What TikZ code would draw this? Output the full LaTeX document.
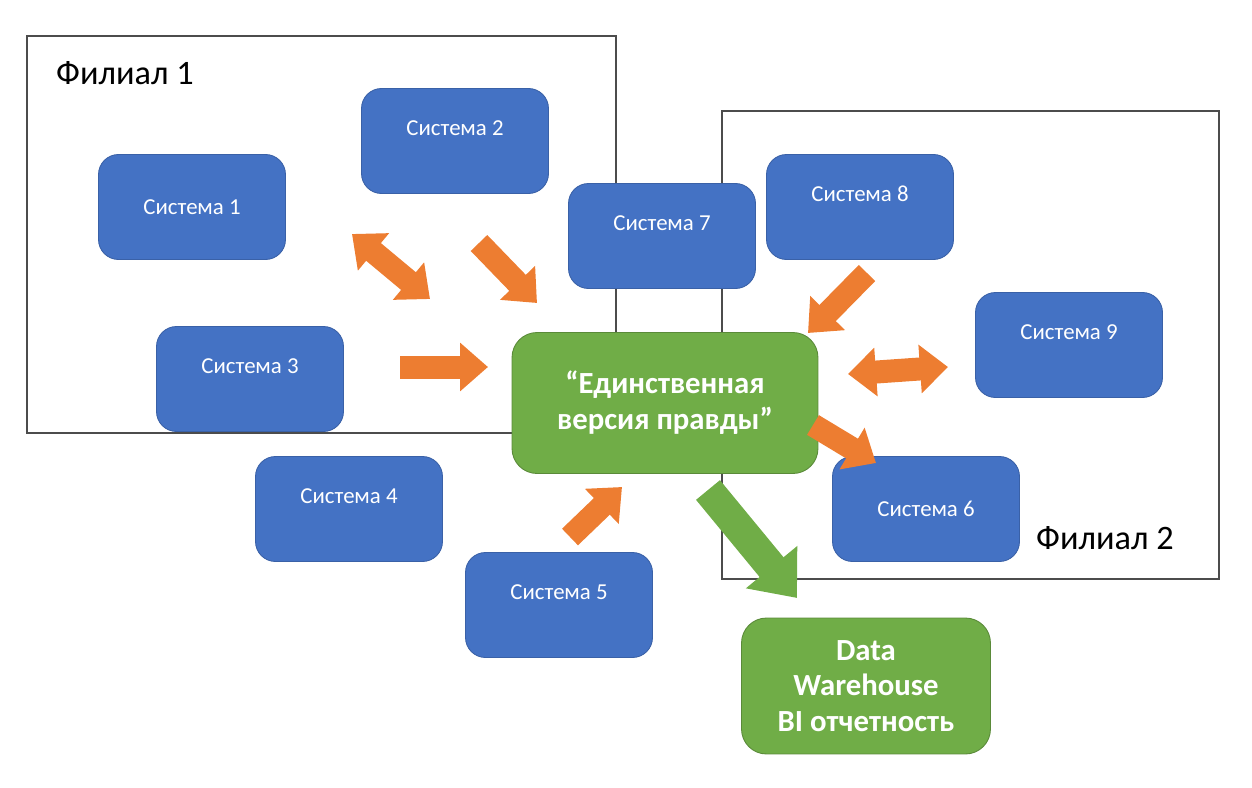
\documentclass[tikz,border=0pt]{standalone}
\usepackage{fontspec}
\setmainfont{Carlito}
\usepackage{tikz}
\usetikzlibrary{arrows.meta}
\definecolor{sysblue}{HTML}{4472C4}
\definecolor{sysorange}{HTML}{ED7D31}
\definecolor{sysgreen}{HTML}{70AD47}
\def\SysWidth{3.74cm}
\def\SysHeight{2.1cm}

\begin{document}
\begin{tikzpicture}[x=0.02cm,y=-0.02cm,
	frame/.style={draw=black!70,line width=0.9pt},
	branch/.style={anchor=west,font=\fontsize{19.5}{23}\selectfont},
	sys/.style={draw=sysblue!85!black,line width=0.5pt,fill=sysblue,rounded corners=0.4cm,minimum width=\SysWidth,minimum height=\SysHeight,inner sep=0pt,text=white,font=\fontsize{13}{15}\selectfont},
	sysup/.style={sys,text depth=0.52cm},
	core/.style={draw=sysgreen!80!black,line width=0.5pt,fill=sysgreen,rounded corners=0.5cm,inner sep=0pt,align=center,text=white,font=\bfseries\fontsize{17.5}{20.4}\selectfont},
	flow/.style={draw=sysorange,line width=0.46cm,-{Triangle[width=0.94cm,length=0.56cm]}},
	flowboth/.style={draw=sysorange,line width=0.46cm,{Triangle[width=0.94cm,length=0.56cm]}-{Triangle[width=0.94cm,length=0.56cm]}},
	feed/.style={draw=sysgreen,line width=0.62cm,-{Triangle[width=1.28cm,length=0.8cm]}}]
	\useasboundingbox (0,0) rectangle (1252,788);
	% branches
	\draw[frame] (27,36) rectangle (616,433);
	\draw[frame] (722,111) rectangle (1219,579);
	\node[branch] (fil1) at (50,73) {Филиал 1};
	\node[branch] (fil2) at (1030,538) {Филиал 2};
	% systems
	\node[sys] (sys1) at (192,207) {Система 1};
	\node[sysup] (sys2) at (455,141) {Система 2};
	\node[sysup] (sys3) at (250,379) {Система 3};
	\node[sysup] (sys4) at (349,509) {Система 4};
	\node[sysup] (sys5) at (559,605) {Система 5};
	\node[sys] (sys6) at (926,509) {Система 6};
	\node[sysup] (sys7) at (662,236) {Система 7};
	\node[sysup] (sys8) at (860,207) {Система 8};
	\node[sysup] (sys9) at (1069,345) {Система 9};
	% 
	\node[core,minimum width=6.12cm,minimum height=2.82cm] (truth) at (665,403) {“Единственная\\версия правды”};
	\node[core,minimum width=4.98cm,minimum height=2.72cm] (dw) at (866,686) {Data\\Warehouse\\BI отчетность};
	% arrow ends
	\coordinate (f1a) at (352,234);
	\coordinate (f1b) at (430,299);
	\coordinate (f2a) at (479,243);
	\coordinate (f2b) at (537,303);
	\coordinate (f3a) at (400,367);
	\coordinate (f3b) at (488,367);
	\coordinate (f5a) at (570,537);
	\coordinate (f5b) at (622,487);
	\coordinate (f8a) at (867,273);
	\coordinate (f8b) at (808,333);
	\coordinate (f9a) at (848,374);
	\coordinate (f9b) at (948,367);
	\coordinate (f6a) at (813,425);
	\coordinate (f6b) at (876,463);
	\coordinate (dwa) at (708,490);
	\coordinate (dwb) at (797,598);
	% 
	\draw[flowboth] (f1a) -- (f1b);
	\draw[flow] (f2a) -- (f2b);
	\draw[flow] (f3a) -- (f3b);
	\draw[flow] (f5a) -- (f5b);
	\draw[flow] (f8a) -- (f8b);
	\draw[flowboth] (f9a) -- (f9b);
	\draw[flow] (f6a) -- (f6b);
	\draw[feed] (dwa) -- (dwb);
\end{tikzpicture}
\end{document}
